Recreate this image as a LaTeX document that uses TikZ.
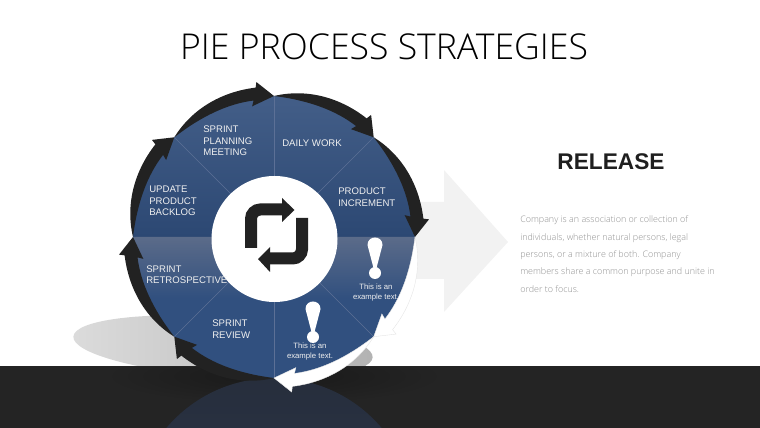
\documentclass[tikz,border=0pt]{standalone}
\usepackage{fontspec}
\usepackage{xcolor}
\setmainfont{Liberation Sans}
\newfontfamily\titlefont{Open Sans Light}
\usetikzlibrary{positioning}
\definecolor{floorDark}{HTML}{242424}
\definecolor{floorShade}{HTML}{191919}
\definecolor{arrowDark}{HTML}{222222}
\definecolor{pieTop}{HTML}{435E88}
\definecolor{pieBase}{HTML}{2C4873}
\definecolor{pieLight}{HTML}{5B6B89}
\definecolor{pieLow}{HTML}{31507F}
\definecolor{pieLine}{HTML}{5C7096}
\definecolor{bigArrow}{HTML}{F2F2F2}
\definecolor{bodyGray}{HTML}{909090}
\definecolor{labelWhite}{HTML}{F0F0F0}
\definecolor{mirrorTop}{HTML}{272E3C}
\definecolor{mirrorLow}{HTML}{2B3A55}
\newcommand{\cyclearrow}[2]{
    \path[#2, shift={(pie)}, rotate=#1] (45:141)
        .. controls (32:153) and (19:154) .. (7:150.5)
        -- (6.5:156) -- (0:141) -- (9.5:132.5) -- (8.5:138)
        .. controls (19:141) and (31:141) .. (45:141) -- cycle;
}
\newcommand{\exclaimmark}[1]{
    \fill[white, shift={(#1)}] (-7.5,23) .. controls (-7.5,33) and (7.5,33) .. (7.5,23)
        -- (1.5,0) -- (-1.5,0) -- cycle;
    \fill[white, shift={(#1)}] (0,-5) circle (6);
}
\begin{document}
\begin{tikzpicture}[
    x=0.75pt, y=0.75pt,
    lbl/.style={font=\fontsize{7.2}{8.6}\selectfont, text=labelWhite, align=left, anchor=west, inner sep=0pt},
    note/.style={font=\fontsize{5.8}{7.5}\selectfont, text=labelWhite, align=center, inner sep=0pt},
    darkarrow/.style={fill=arrowDark},
    whitearrow/.style={fill=white, draw=black!10, line width=0.3pt},
]
    \useasboundingbox (0,0) rectangle (760,428);
    \coordinate (pie) at (274,191);

    % backdrop
    \fill[bigArrow] (400,226) -- (444,226) -- (444,258) -- (508,186) -- (444,116) -- (444,149) -- (400,149) -- cycle;
    \shade[rotate around={-4:(223,81)}, left color=black!14, right color=black!30] (223,81) ellipse (150 and 30);
    \fill[floorDark] (0,0) rectangle (760,62);
    \begin{scope}
        \clip (0,0) rectangle (760,60);
        \shade[inner color=floorShade, outer color=floorDark] (274,52) ellipse (170 and 28);
        \shade[top color=mirrorTop, bottom color=mirrorLow] (274,-91) circle (141);
    \end{scope}

    % pie halves
    \shade[shift={(pie)}, top color=pieTop, bottom color=pieBase] (180:141) arc (180:0:141) -- cycle;
    \begin{scope}
        \clip[shift={(pie)}] (180:141) arc (180:360:141) -- cycle;
        \fill[pieLow] (130,40) rectangle (420,191);
        \shade[top color=pieLight, bottom color=pieLow] (130,130) rectangle (420,191);
    \end{scope}
    \foreach \ang in {45,90,135,225,270,315} {
        \draw[pieLine, line width=0.4pt, shift={(pie)}] (0,0) -- (\ang:141);
    }

    \foreach \rot in {0,45,90,135,180,225} {
        \cyclearrow{\rot}{darkarrow}
    }
    \foreach \rot in {-45,-90} {
        \cyclearrow{\rot}{whitearrow}
    }

    % centre
    \fill[white] (274.5,189) circle (63);
    \draw[arrowDark, line width=9pt, rounded corners=7pt] (251,180) -- (251,218.5) -- (283,218.5);
    \fill[arrowDark] (282,230) -- (294.5,218) -- (282,206) -- cycle;
    \draw[arrowDark, line width=9pt, rounded corners=7pt] (302,210) -- (302,169.5) -- (270,169.5);
    \fill[arrowDark] (270,181) -- (258,169) -- (270,156) -- cycle;

    \exclaimmark{375,160}
    \exclaimmark{313,96}

    % texts
    \node (title) [font=\titlefont\fontsize{26.7}{30}\selectfont, text=black] at (384,381) {PIE PROCESS STRATEGIES};
    \node (release) [font=\bfseries\fontsize{17}{18}\selectfont, text=black!88] at (611,266) {RELEASE};
    \node (body) [font=\titlefont\fontsize{6.7}{13}\selectfont, text=bodyGray, align=left, anchor=west, inner sep=0pt] at (520,174)
        {Company is an association or collection of\\individuals, whether natural persons, legal\\persons, or a mixture of both. Company\\members share a common purpose and unite in\\order to focus.};

    \node (planning) [lbl] at (203,287) {SPRINT\\PLANNING\\MEETING};
    \node (daily) [lbl] at (282,285) {DAILY WORK};
    \node (increment) [lbl] at (338,231) {PRODUCT\\INCREMENT};
    \node (backlog) [lbl] at (149,227) {UPDATE\\PRODUCT\\BACKLOG};
    \node (retro) [lbl] at (146,153.5) {SPRINT\\RETROSPECTIVE};
    \node (review) [lbl] at (212,99) {SPRINT\\REVIEW};
    \node (noteright) [note] at (376,135) {This is an\\example text.};
    \node (notelow) [note] at (310,76) {This is an\\example text.};
\end{tikzpicture}
\end{document}
